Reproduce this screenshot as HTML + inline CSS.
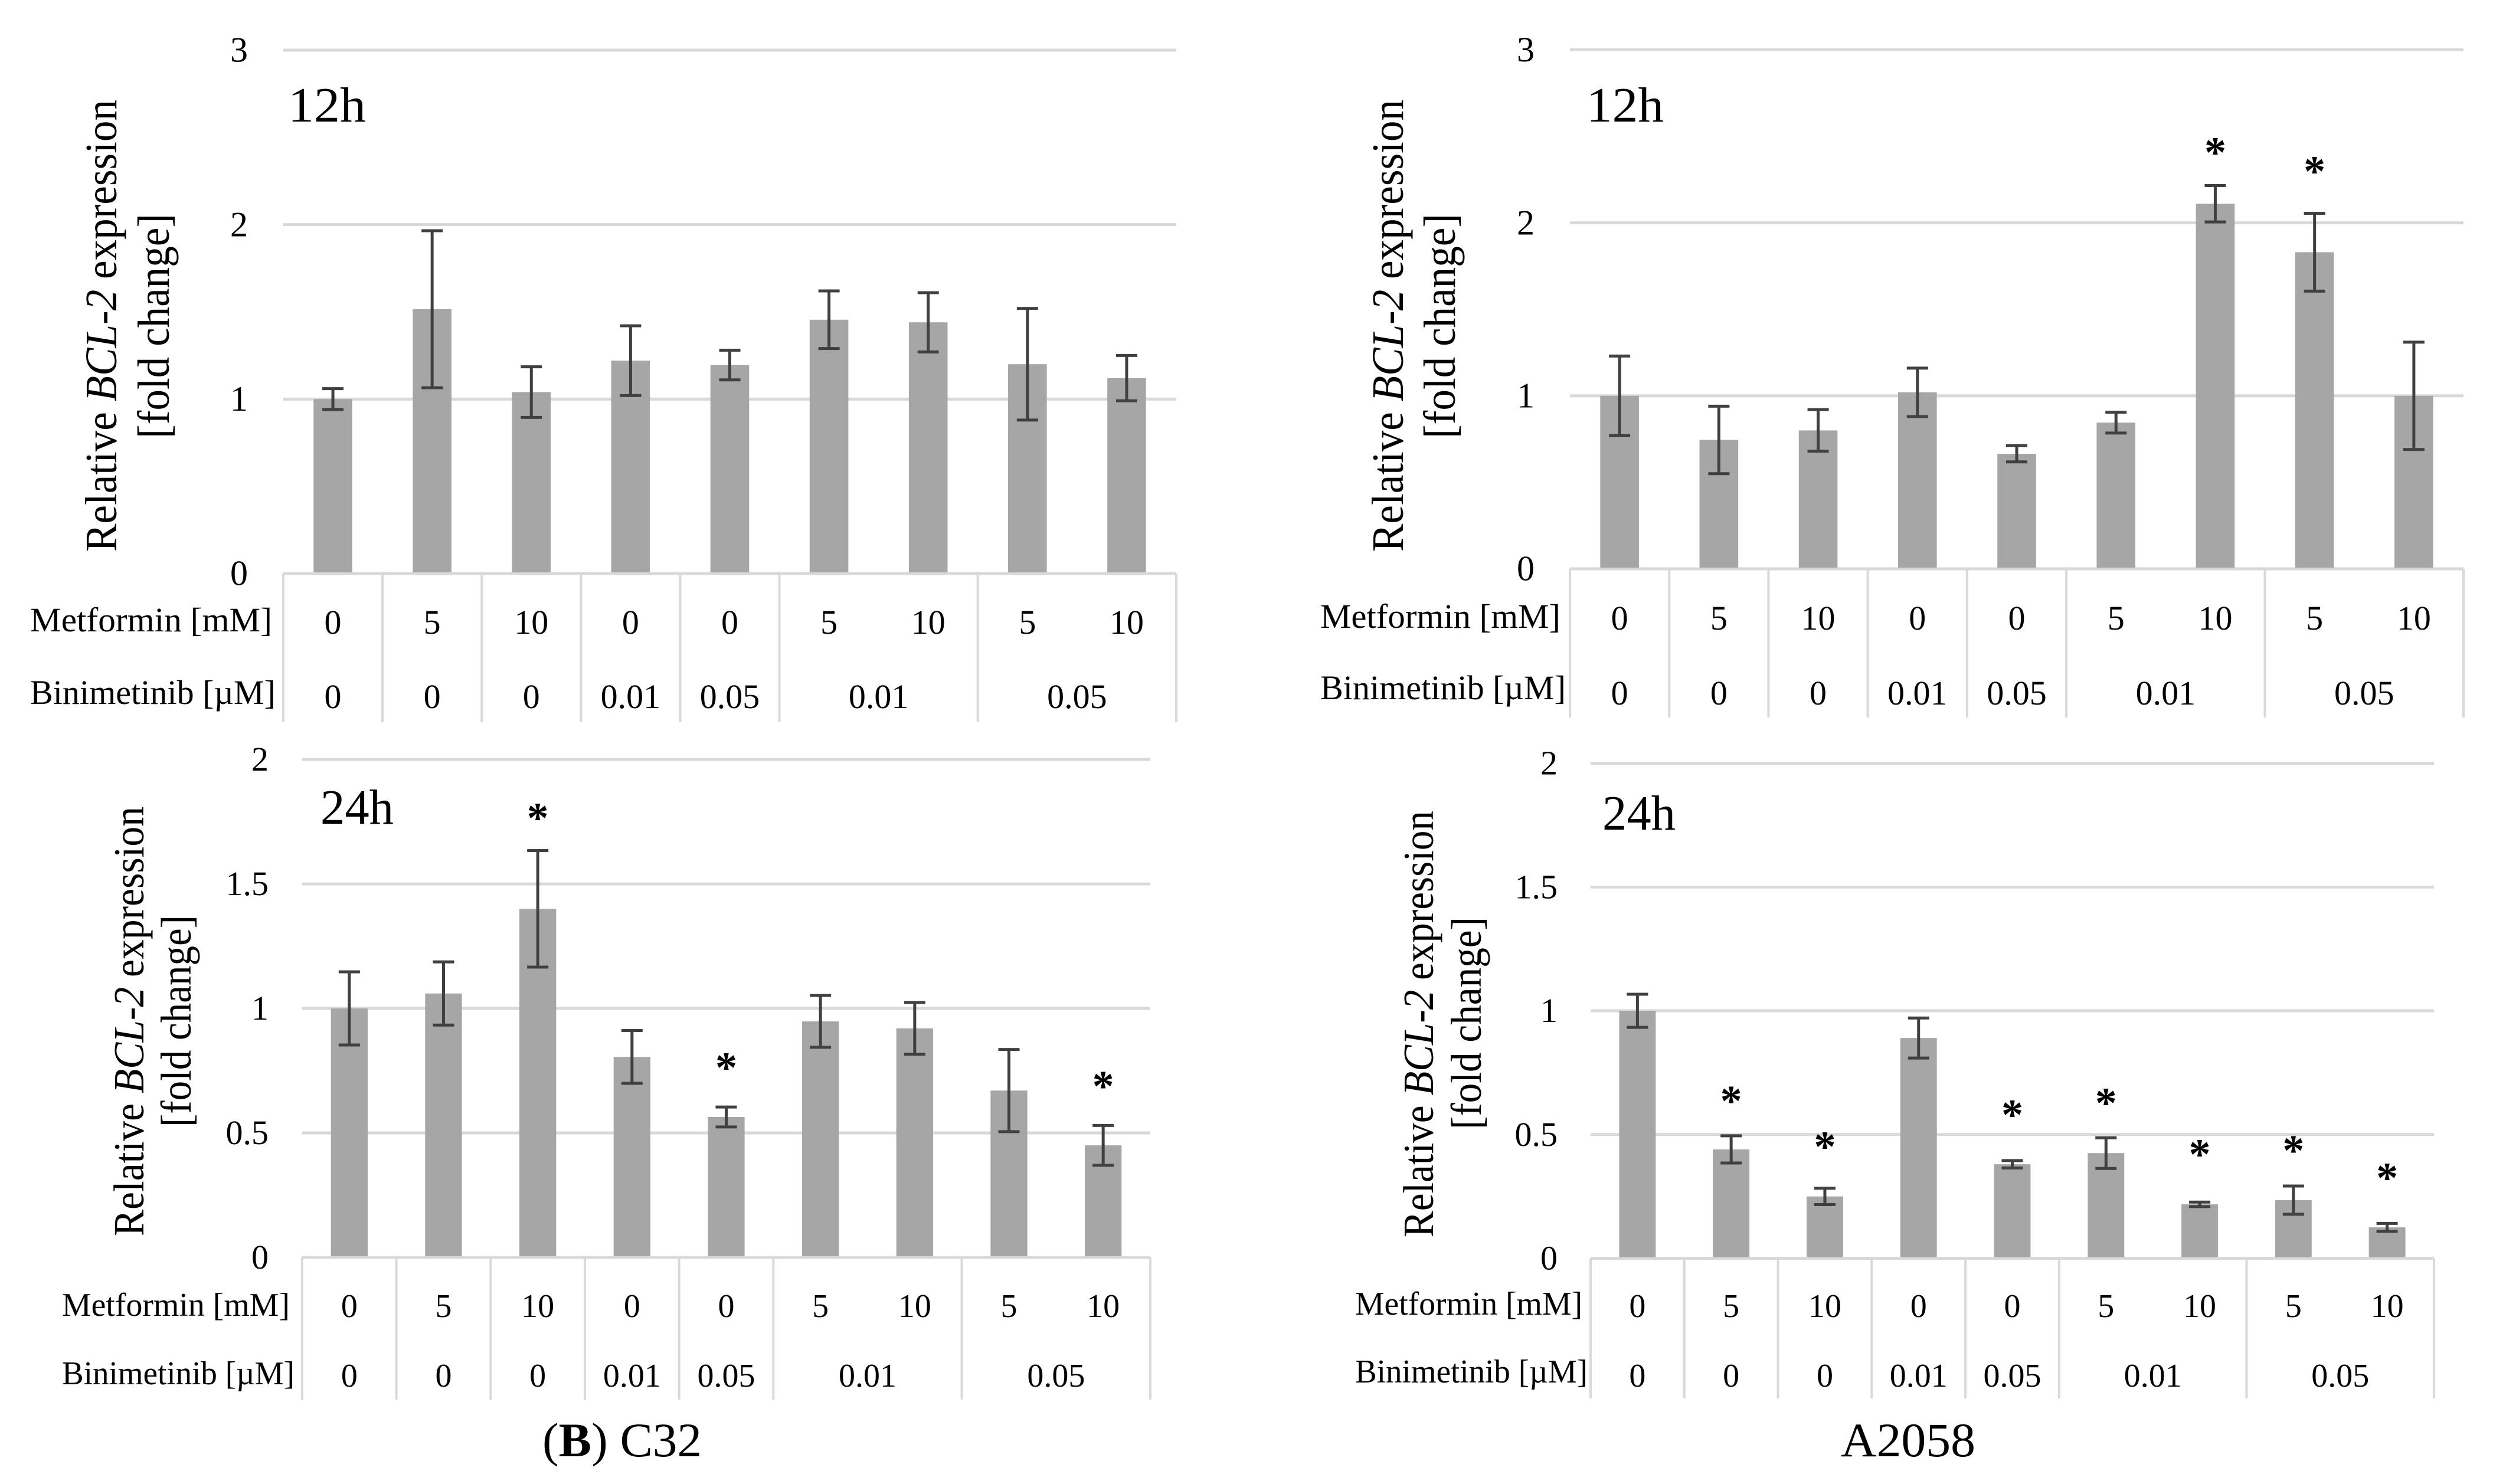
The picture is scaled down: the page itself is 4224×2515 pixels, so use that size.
<!DOCTYPE html>
<html lang="en">
<head>
<meta charset="utf-8">
<title>BCL-2 expression in C32 and A2058 cells</title>
<style>
html,body{margin:0;padding:0;background:#fff;width:4224px;height:2515px;overflow:hidden}
svg{display:block}
text{font-family:"Liberation Serif",serif;fill:#000}
</style>
</head>
<body>
<svg id="figure" xmlns="http://www.w3.org/2000/svg" width="4224" height="2515" viewBox="0 0 4224 2515">
<rect x="0" y="0" width="4224" height="2515" fill="#fff"/>
<text x="919" y="2468" font-size="82" textLength="270" lengthAdjust="spacingAndGlyphs">(<tspan font-weight="bold">B</tspan>) C32</text>
<text x="3119" y="2468" font-size="82" textLength="228" lengthAdjust="spacingAndGlyphs">A2058</text>
</svg>
<script>
// Shared categories
const metforminLabels = ['0','5','10','0','0','5','10','5','10'];
const binimetinibLabels = ['0','0','0','0.01','0.05','0.01','0.05'];
const binimetinibSpans = [1,1,1,1,1,2,2];

// Axis tick labels
const ticks12h = [0,1,2,3];
const ticks24h = [0,0.5,1,1.5,2];

// C32, 12 h
const c32h12Values = [1.0,1.515,1.04,1.22,1.195,1.455,1.44,1.2,1.12];
const c32h12Errors = [0.06,0.45,0.145,0.2,0.085,0.165,0.17,0.32,0.13];
const c32h12Stars = [null,null,null,null,null,null,null,null,null];

// A2058, 12 h
const a2058h12Values = [1.0,0.745,0.8,1.02,0.665,0.845,2.11,1.83,1.0];
const a2058h12Errors = [0.23,0.195,0.12,0.14,0.047,0.06,0.105,0.225,0.31];
const a2058h12Stars = [null,null,null,null,null,null,2.425,2.315,null];

// C32, 24 h
const c32h24Values = [1.0,1.06,1.4,0.805,0.564,0.948,0.92,0.67,0.45];
const c32h24Errors = [0.147,0.127,0.234,0.106,0.04,0.104,0.104,0.165,0.08];
const c32h24Stars = [null,null,1.777,null,0.775,null,null,null,0.7];

// A2058, 24 h
const a2058h24Values = [1.0,0.44,0.25,0.89,0.38,0.425,0.218,0.235,0.125];
const a2058h24Errors = [0.067,0.055,0.033,0.081,0.015,0.062,0.009,0.057,0.016];
const a2058h24Stars = [null,0.649,0.464,null,0.592,0.64,0.433,0.448,0.337];

const NS = 'http://www.w3.org/2000/svg';
const svg = document.getElementById('figure');

function el(parent, tag, attrs) {
  const n = document.createElementNS(NS, tag);
  for (const k in attrs) n.setAttribute(k, attrs[k]);
  parent.appendChild(n);
  return n;
}
function label(parent, x, y, str, size, anchor) {
  const n = el(parent, 'text', {x: x, y: y, 'font-size': size, 'text-anchor': anchor || 'middle'});
  n.textContent = str;
  return n;
}

function drawPanel(p) {
  const g = el(svg, 'g', {});
  
  

  const maxTick = p.ticks[p.ticks.length - 1];
  const yScale = function (v) { return p.y0 - (v / maxTick) * (p.y0 - p.yTop); };
  const step = (p.right - p.left) / p.values.length;
  const xCenter = function (i) { return p.left + step * (i + 0.5); };

  // gridlines and tick labels
  p.ticks.forEach(function (t) {
    const line = el(g, 'line', {x1: p.left, x2: p.right, y1: yScale(t), y2: yScale(t), stroke: '#d9d9d9', 'stroke-width': 5});
    
    
    const tl = label(g, p.tickRight, yScale(t) + p.digit * 0.34, String(t), p.digit + 2, 'end');
    
    
  });

  // bars
  p.values.forEach(function (v, i) {
    const w = step * 0.39;
    const bar = el(g, 'rect', {x: xCenter(i) - w / 2, y: yScale(v), width: w, height: p.y0 - 2 - yScale(v), fill: '#a6a6a6'});
    
    
  });

  // error bars
  p.errors.forEach(function (e, i) {
    const cx = xCenter(i);
    const hi = yScale(p.values[i] + e);
    const lo = yScale(p.values[i] - e);
    const eg = el(g, 'path', {
      d: 'M' + cx + ' ' + hi + 'V' + lo + 'M' + (cx - 18) + ' ' + hi + 'H' + (cx + 18) + 'M' + (cx - 18) + ' ' + lo + 'H' + (cx + 18),
      stroke: '#404040', 'stroke-width': 5, fill: 'none'
    });
    
    
  });

  // significance stars
  p.stars.forEach(function (s, i) {
    if (s === null) return;
    const st = label(g, xCenter(i), yScale(s) + 30, '*', 74);
    st.setAttribute('font-weight', 'bold');
    
    
  });

  // category table: separators and labels
  let pos = 0;
  const drawSep = function (idx) {
    const x = p.left + step * idx;
    const s = el(g, 'line', {x1: x, x2: x, y1: p.y0, y2: p.tableBottom, stroke: '#d9d9d9', 'stroke-width': 4});
    
    
  };
  drawSep(0);
  binimetinibLabels.forEach(function (b, i) {
    const span = binimetinibSpans[i];
    const t = label(g, p.left + step * (pos + span / 2), p.row2Digit, b, p.digit);
    
    
    pos += span;
    drawSep(pos);
  });
  metforminLabels.forEach(function (m, i) {
    const t = label(g, xCenter(i), p.row1Digit, m, p.digit);
    
    
  });

  // row headers
  const mh = label(g, p.headLeft, p.row1Head, 'Metformin [mM]', p.digit, 'start');
  mh.setAttribute('textLength', p.headW1);
  mh.setAttribute('lengthAdjust', 'spacingAndGlyphs');
  
  
  const bh = label(g, p.headLeft, p.row2Head, 'Binimetinib [\u00b5M]', p.digit, 'start');
  bh.setAttribute('textLength', p.headW2);
  bh.setAttribute('lengthAdjust', 'spacingAndGlyphs');
  
  

  // time label
  const tm = label(g, p.timeX, p.timeY, p.time, 84, 'start');
  tm.setAttribute('textLength', p.timeW);
  tm.setAttribute('lengthAdjust', 'spacingAndGlyphs');
  
  

  // y axis title, two rotated lines
  const t1 = el(g, 'text', {
    x: p.t1x, y: p.t1y, 'font-size': p.titleSize, transform: 'rotate(-90 ' + p.t1x + ' ' + p.t1y + ')',
    textLength: p.t1len, lengthAdjust: 'spacingAndGlyphs'
  });
  
  
  t1.appendChild(document.createTextNode('Relative '));
  const it = el(t1, 'tspan', {'font-style': 'italic'});
  it.textContent = 'BCL-2';
  t1.appendChild(document.createTextNode(' expression'));
  const t2 = el(g, 'text', {
    x: p.t2x, y: p.t2y, 'font-size': p.titleSize, transform: 'rotate(-90 ' + p.t2x + ' ' + p.t2y + ')',
    textLength: p.t2len, lengthAdjust: 'spacingAndGlyphs'
  });
  t2.textContent = '[fold change]';
  
  
}

drawPanel({
  name: 'c32-12h-chart', ticks: ticks12h, values: c32h12Values, errors: c32h12Errors, stars: c32h12Stars,
  left: 480, right: 1993, yTop: 85, y0: 972, tableBottom: 1224, tickRight: 420, digit: 58,
  row1Digit: 1074, row2Digit: 1200, headLeft: 51, row1Head: 1070, row2Head: 1193, headW1: 410, headW2: 416,
  time: '12h', timeX: 488, timeY: 206, timeW: 132,
  titleSize: 76, t1x: 197, t1y: 935, t1len: 766, t2x: 286, t2y: 743, t2len: 381
});
drawPanel({
  name: 'a2058-12h-chart', ticks: ticks12h, values: a2058h12Values, errors: a2058h12Errors, stars: a2058h12Stars,
  left: 2660, right: 4174, yTop: 84.4, y0: 964, tableBottom: 1216, tickRight: 2600, digit: 58,
  row1Digit: 1067, row2Digit: 1194, headLeft: 2237, row1Head: 1064, row2Head: 1185, headW1: 407, headW2: 416,
  time: '12h', timeX: 2688, timeY: 206, timeW: 131,
  titleSize: 76, t1x: 2377, t1y: 935, t1len: 766, t2x: 2465, t2y: 743, t2len: 381
});
drawPanel({
  name: 'c32-24h-chart', ticks: ticks24h, values: c32h24Values, errors: c32h24Errors, stars: c32h24Stars,
  left: 512, right: 1949, yTop: 1287, y0: 2131, tableBottom: 2372, tickRight: 455, digit: 56,
  row1Digit: 2232, row2Digit: 2350, headLeft: 105, row1Head: 2230, row2Head: 2346, headW1: 386, headW2: 394,
  time: '24h', timeX: 543, timeY: 1396, timeW: 124,
  titleSize: 73, t1x: 243, t1y: 2095, t1len: 728, t2x: 323, t2y: 1910, t2len: 359
});
drawPanel({
  name: 'a2058-24h-chart', ticks: ticks24h, values: a2058h24Values, errors: a2058h24Errors, stars: a2058h24Stars,
  left: 2695, right: 4124, yTop: 1293.6, y0: 2132.5, tableBottom: 2370, tickRight: 2639, digit: 56,
  row1Digit: 2232, row2Digit: 2350, headLeft: 2296, row1Head: 2228, row2Head: 2343, headW1: 385, headW2: 394,
  time: '24h', timeX: 2715, timeY: 1406, timeW: 124,
  titleSize: 73, t1x: 2428, t1y: 2097, t1len: 723, t2x: 2509, t2y: 1914, t2len: 360
});
</script>
</body>
</html>
